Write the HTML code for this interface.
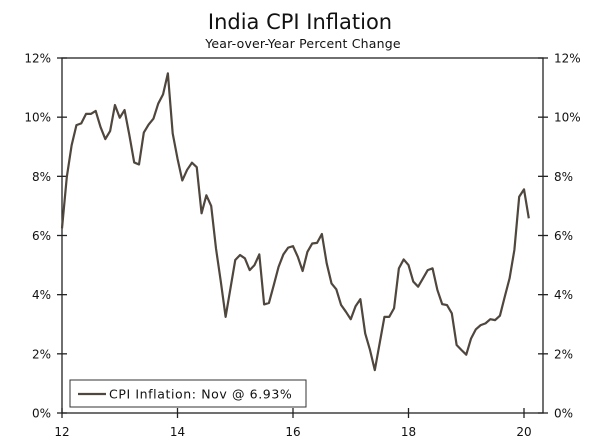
<!DOCTYPE html>
<html><head><meta charset="utf-8"><style>
html,body{margin:0;padding:0;background:#fff;}
svg{display:block;font-family:"DejaVu Sans","Liberation Sans",sans-serif;}
</style></head><body>
<svg id="chart" width="600" height="440" viewBox="0 0 600 440" xmlns="http://www.w3.org/2000/svg">
<text x="300" y="29" text-anchor="middle" font-size="21" fill="#111">India CPI Inflation</text>
<text x="303" y="48" text-anchor="middle" font-size="12.5" letter-spacing="0.2" fill="#111">Year-over-Year Percent Change</text>
<g id="axes"></g>
<path id="line" fill="none" stroke="#4f463d" stroke-width="2.2" stroke-linejoin="round"/>
<g>
<rect x="70" y="380" width="236" height="27" fill="#fff" stroke="#333" stroke-width="1"/>
<line x1="78" y1="394" x2="106" y2="394" stroke="#4f463d" stroke-width="2.2"/>
<text x="109" y="398.5" font-size="12.5" letter-spacing="0.6" fill="#111">CPI Inflation: Nov @ 6.93%</text>
</g>
</svg>
<script>
const values = [6.24,7.98,9.05,9.73,9.79,10.11,10.11,10.21,9.67,9.26,9.53,10.41,9.98,10.24,9.39,8.47,8.40,9.48,9.75,9.95,10.46,10.77,11.48,9.45,8.60,7.86,8.22,8.46,8.31,6.75,7.36,7.00,5.56,4.44,3.25,4.21,5.17,5.34,5.23,4.83,5.00,5.36,3.67,3.72,4.32,4.94,5.36,5.59,5.64,5.28,4.80,5.45,5.73,5.75,6.05,5.06,4.38,4.18,3.65,3.42,3.17,3.61,3.85,2.69,2.13,1.45,2.35,3.25,3.25,3.54,4.89,5.19,5.00,4.44,4.27,4.55,4.83,4.89,4.16,3.68,3.65,3.37,2.30,2.13,1.97,2.52,2.83,2.97,3.03,3.17,3.14,3.29,3.93,4.55,5.51,7.31,7.56,6.58];
const startYear = 2012;
const yTicks = [0,2,4,6,8,10,12];
const yTickLabels = ["0%","2%","4%","6%","8%","10%","12%"];
const xTicks = [2012,2014,2016,2018,2020];
const xTickLabels = ["12","14","16","18","20"];

const L=62,R=543,T=58,B=413;
const X0=62, X1=524;
const xs = yr => X0 + (yr-2012)/8*(X1-X0);
const ys = v => B - v/12*(B-T);
const NS="http://www.w3.org/2000/svg";
const ax=document.getElementById('axes');
function mk(tag,attrs){const e=document.createElementNS(NS,tag);for(const k in attrs)e.setAttribute(k,attrs[k]);ax.appendChild(e);return e;}
let e;
e=mk('rect',{x:L,y:T,width:R-L,height:B-T,fill:'none',stroke:'#222','stroke-width':1.3});


yTicks.forEach((t,i)=>{
  const y=ys(t);
  e=mk('line',{x1:L-5,x2:L+5,y1:y,y2:y,stroke:'#222','stroke-width':1.3});
  
  
  e=mk('line',{x1:R-5,x2:R+5,y1:y,y2:y,stroke:'#222','stroke-width':1.3});
  
  
  e=mk('text',{x:L-11,y:y+4.5,'text-anchor':'end','font-size':12,fill:'#111'});
  e.textContent=yTickLabels[i];
  
  
  e=mk('text',{x:R+11,y:y+4.5,'text-anchor':'start','font-size':12,fill:'#111'});
  e.textContent=yTickLabels[i];
  
  
});
xTicks.forEach((t,i)=>{
  const x=xs(t);
  e=mk('line',{x1:x,x2:x,y1:B-5,y2:B+5,stroke:'#222','stroke-width':1.3});
  
  
  e=mk('text',{x:x,y:B+23,'text-anchor':'middle','font-size':12,fill:'#111'});
  e.textContent=xTickLabels[i];
  
  
});
const d=values.map((v,i)=>(i?'L':'M')+xs(startYear+i/12).toFixed(2)+','+ys(v).toFixed(2)).join(' ');
document.getElementById('line').setAttribute('d',d);
</script>
</body></html>
